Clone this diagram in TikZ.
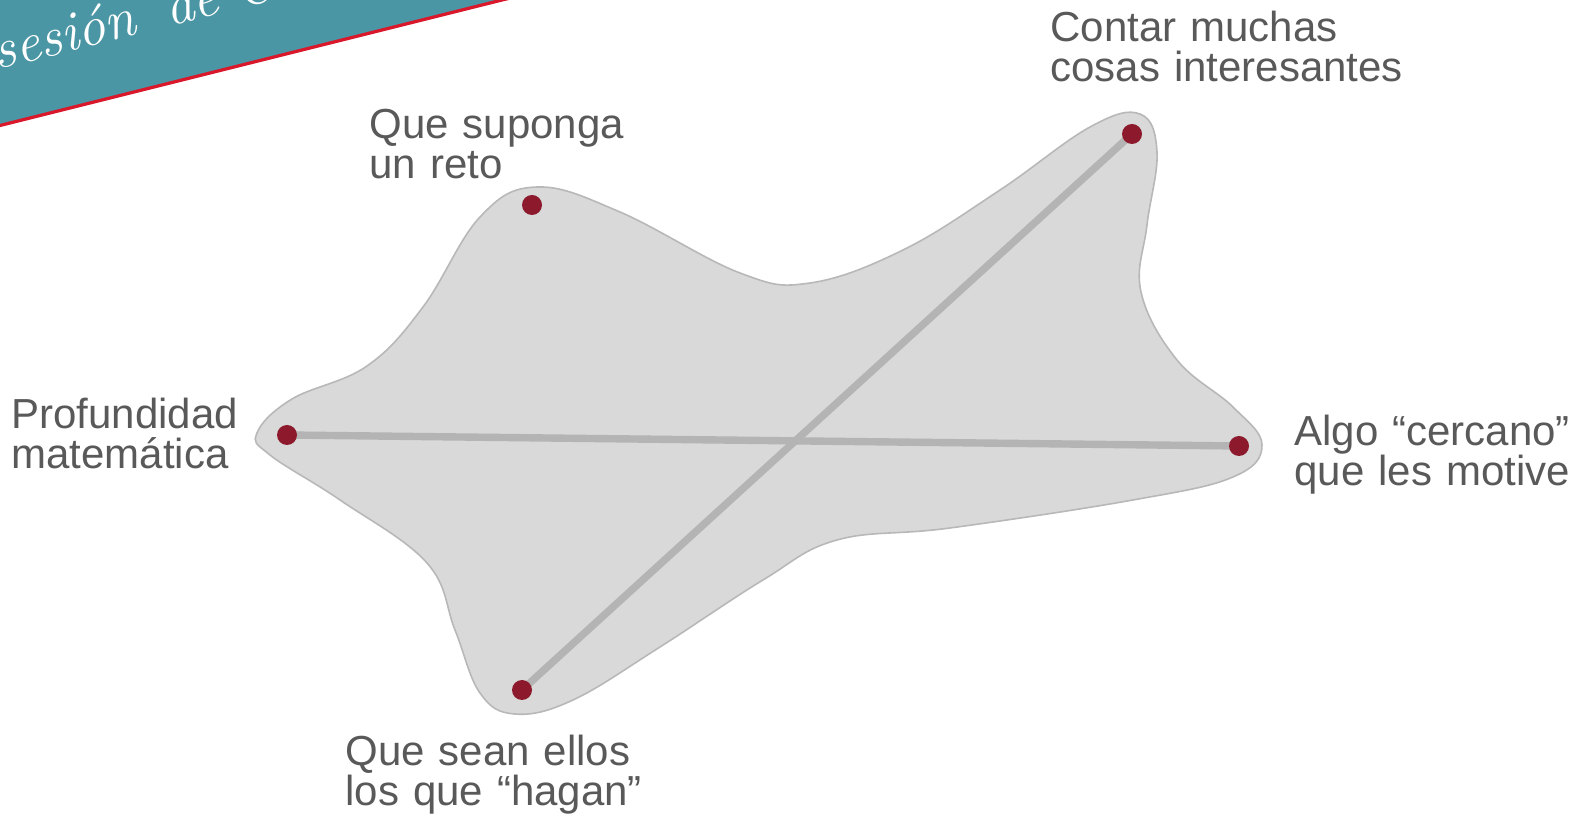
\documentclass[tikz,border=0pt]{standalone}
\usepackage{fontspec}
\newfontfamily\labelfont{Liberation Sans}
\definecolor{bannerteal}{HTML}{4A96A4}
\definecolor{bannerred}{HTML}{D9182B}
\definecolor{blobfill}{HTML}{D9D9D9}
\definecolor{blobedge}{HTML}{B8B8B8}
\definecolor{spokegray}{HTML}{B4B4B4}
\definecolor{dotred}{HTML}{8C1A2C}
\definecolor{labelgray}{HTML}{595959}
\tikzset{
  blob/.style={fill=blobfill, draw=blobedge, line width=0.8pt},
  spoke/.style={draw=spokegray, line width=3.7pt},
  dot/.style={circle, fill=dotred, inner sep=0pt, minimum size=10pt},
  lbl/.style={anchor=base west, inner sep=0pt, text width=300pt, align=left,
    text=labelgray, font=\labelfont\fontsize{21}{20}\selectfont},
}
\begin{document}
\begin{tikzpicture}[x=0.5pt,y=-0.5pt]
\useasboundingbox (0,0) rectangle (1576,817);
\clip (0,0) rectangle (1576,817);

% title banner in the corner
\fill[bannerteal] (-10,-10) -- (545,-10) -- (502,0) -- (0,125) -- (-10,128) -- cycle;
\draw[bannerred, line width=1.6pt] (-10,128) -- (502,0) -- (545,-10);
\node[rotate=14.3, anchor=base west, inner sep=0pt, text=white,
      font=\fontsize{28}{28}\selectfont\itshape] (title) at (-3,70)
      {sesión\hspace{6pt} de Co};

% the shaded region
\draw[blob] plot[smooth cycle, tension=0.65] coordinates {
  (257,433) (292,399) (367,366) (423,307) (480,217) (537,187) (620,212)
  (740,273) (810,283) (903,250) (1000,190) (1090,127) (1140,114)
  (1157,152) (1147,225) (1141,292) (1177,360) (1233,407) (1262,445)
  (1233,477) (1133,500) (950,528) (837,540) (763,580) (660,647)
  (573,700) (515,714) (480,693) (455,630) (427,563) (340,500) (270,455)};

% points of the star
\coordinate (pm) at (287,435);
\coordinate (rt) at (532,205);
\coordinate (cm) at (1132,134);
\coordinate (ac) at (1239,446);
\coordinate (sh) at (522,690);

\draw[spoke] (pm) -- (ac);
\draw[spoke] (cm) -- (sh);

\node[dot] (dpm) at (pm) {};
\node[dot] (drt) at (rt) {};
\node[dot] (dcm) at (cm) {};
\node[dot] (dac) at (ac) {};
\node[dot] (dsh) at (sh) {};

% labels
\node[lbl] (lcm) at (1050,42) {Contar muchas\\cosas interesantes};
\node[lbl] (lrt) at (369,139) {Que suponga\\un reto};
\node[lbl] (lpm) at (11,429) {Profundidad\\matemática};
\node[lbl] (lac) at (1294,446) {Algo “cercano”\\que les motive};
\node[lbl] (lsh) at (345,766) {Que sean ellos\\los que “hagan”};
\end{tikzpicture}
\end{document}
